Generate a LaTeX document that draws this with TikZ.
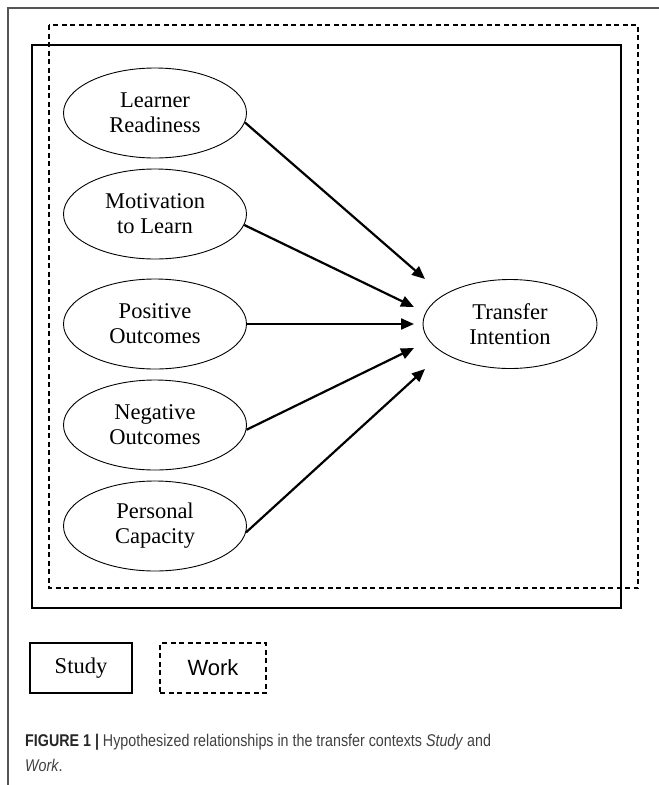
\documentclass[tikz,border=0pt]{standalone}
\usepackage{fontspec}
\setmainfont{Liberation Serif}
\newfontfamily\sansfont{Liberation Sans}
\newfontfamily\capfont[FakeStretch=0.84]{Liberation Sans}
\usetikzlibrary{shapes.geometric,arrows.meta,positioning}
\definecolor{capgray}{HTML}{404040}
\definecolor{framegray}{HTML}{555555}

\begin{document}
\begin{tikzpicture}[x=1pt,y=-1pt,
    construct/.style={ellipse, draw, line width=0.9pt, minimum width=183pt, minimum height=90pt,
      inner sep=0pt, align=center, font=\fontsize{22.5}{25}\selectfont},
    legendbox/.style={draw, line width=1.1pt, minimum width=102pt, minimum height=50pt, inner sep=0pt},
    context/.style={line width=1.2pt},
    workdash/.style={dash pattern=on 5pt off 3.5pt},
    path/.style={->, line width=2.2pt},
    >={Triangle[length=13pt,width=11pt]},
    node distance=101pt]
    \useasboundingbox (0,0) rectangle (659,785);
    % caption frame
    \draw[framegray, line width=1.2pt] (659,8) -- (8,8) -- (8,785);

    % Study and Work contexts
    \draw[context] (32,45) rectangle (621,608);
    \draw[context, workdash] (49,25) rectangle (638,588);

    \node[construct] (lr) at (155,113) {Learner\\Readiness};
    \node[construct, below of=lr] (mtl) {Motivation\\to Learn};
    \node[construct, below of=mtl, yshift=-9pt] (po) {Positive\\Outcomes};
    \node[construct, below of=po] (no) {Negative\\Outcomes};
    \node[construct, below of=no] (pc) {Personal\\Capacity};
    \node[construct, node distance=355pt, right of=po, minimum width=174pt, minimum height=89pt] (ti) {Transfer\\Intention};

    \coordinate (tip1) at ([shift={(-85,-45)}]ti.center);
    \coordinate (tip2) at ([shift={(-96,-17)}]ti.center);
    \coordinate (tip3) at ([shift={(-96,0)}]ti.center);
    \coordinate (tip4) at ([shift={(-96,24)}]ti.center);
    \coordinate (tip5) at ([shift={(-85,45)}]ti.center);

    \draw[path] (lr.-6) -- (tip1);
    \draw[path] (mtl.-7) -- (tip2);
    \draw[path] (po.east) -- (tip3);
    \draw[path] (no.-3) -- (tip4);
    \draw[path] (pc.-4) -- (tip5);

    % legend
    \node[legendbox, font=\fontsize{22.5}{25}\selectfont] (study) at (81,668) {Study};
    \node[legendbox, workdash, minimum width=106pt, node distance=132pt, right of=study,
      font=\sansfont\fontsize{22}{25}\selectfont] (work) {Work};

    \node[anchor=base west, align=left, inner sep=0pt, text=capgray,
      font=\capfont\fontsize{17}{25}\selectfont] (caption) at (25,771)
      {\textcolor{black!85}{\textbf{FIGURE 1 |}} Hypothesized relationships in the transfer contexts \textit{Study} and\\\textit{Work}.};
\end{tikzpicture}
\end{document}
